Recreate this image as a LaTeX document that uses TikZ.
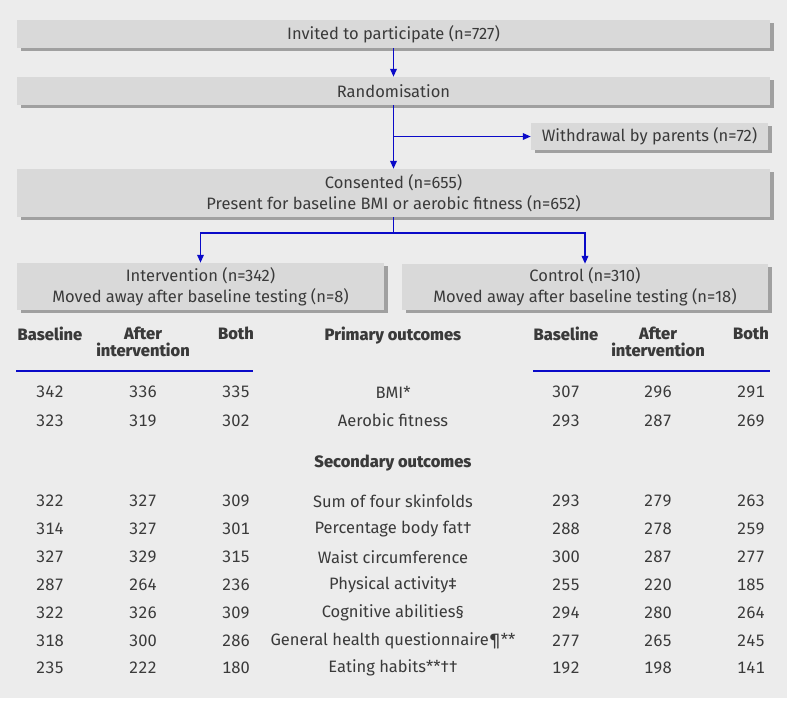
\documentclass[tikz,border=0pt]{standalone}
\usepackage{fontspec}
\setmainfont{Fira Sans}
\newfontfamily\headfont{Fira Sans ExtraBold}
\newfontfamily\numfont{Fira Sans}[Numbers=Monospaced]
\usetikzlibrary{arrows.meta,shadows}
\definecolor{bggray}{RGB}{236,236,236}
\definecolor{boxgray}{RGB}{217,217,217}
\definecolor{shadowgray}{RGB}{160,160,160}
\definecolor{txtgray}{RGB}{58,58,58}
\definecolor{linkblue}{RGB}{10,10,200}
\begin{document}
\begin{tikzpicture}[x=1pt,y=-1pt,
  every node/.style={text=txtgray, font=\fontsize{16.5}{21}\selectfont, inner sep=0pt},
  flowbox/.style={fill=boxgray, align=center,
    general shadow={fill=shadowgray, shadow xshift=4pt, shadow yshift=-3pt}},
  conn/.style={draw=linkblue, line width=1.8pt, -{Triangle[length=8pt,width=6.5pt]}},
  rule/.style={draw=linkblue, line width=1.8pt},
  headcell/.style={font=\headfont\fontsize{16.5}{17}\selectfont, align=center, anchor=north},
  cell/.style={anchor=center, font=\numfont\fontsize{16.5}{21}\selectfont}
]
\useasboundingbox (0,0) rectangle (787,705);
\fill[white] (0,0) rectangle (787,705);
\fill[bggray] (0,0) rectangle (787,698);

% flow boxes
\node[flowbox, minimum width=753pt, minimum height=28pt] (inv) at (393.5,34) {Invited to participate (n=727)};
\node[flowbox, minimum width=753pt, minimum height=28pt] (rand) at (393.5,91) {Randomisation};
\node[flowbox, minimum width=237pt, minimum height=27pt] (wd) at (649.5,136.5) {Withdrawal by parents (n=72)};
\node[flowbox, minimum width=753pt, minimum height=48pt] (cons) at (393.5,193) {Consented (n=655)\\Present for baseline BMI or aerobic fitness (n=652)};
\node[flowbox, minimum width=367pt, minimum height=47pt] (int) at (200.5,286.5) {Intervention (n=342)\\Moved away after baseline testing (n=8)};
\node[flowbox, minimum width=366pt, minimum height=46pt] (ctl) at (585,287) {Control (n=310)\\Moved away after baseline testing (n=18)};

% connectors
\draw[conn] (inv.south) -- (rand.north);
\draw[conn] (rand.south) -- (cons.north);
\draw[conn] (rand.south |- wd.west) -- (wd.west);
\draw[conn] (cons.south) -- ++(0,16) -| (int.north);
\draw[conn] (cons.south) -- ++(0,16) -| (ctl.north);

% table headers
\node[headcell] (hlb) at (50,327) {Baseline};
\node[headcell] (hla) at (143,327) {After\\intervention};
\node[headcell] (hlc) at (236,327) {Both};
\node[headcell] (hpo) at (393,327) {Primary outcomes};
\node[headcell] (hrb) at (566,327) {Baseline};
\node[headcell] (hra) at (658,327) {After\\intervention};
\node[headcell] (hrc) at (751,327) {Both};
\coordinate (rl1) at (16,371);
\coordinate (rl2) at (253,371);
\coordinate (rr1) at (533,371);
\coordinate (rr2) at (770,371);
\draw[rule] (rl1) -- (rl2);
\draw[rule] (rr1) -- (rr2);

\node[font=\headfont\fontsize{16.5}{17}\selectfont] (hso) at (393,463) {Secondary outcomes};

% table rows
\foreach \yy/\a/\b/\c/\t/\d/\e/\f [count=\i] in {
  392/342/336/335/BMI*/307/296/291,
  420.5/323/319/302/Aerobic fitness/293/287/269,
  501/322/327/309/Sum of four skinfolds/293/279/263,
  529/314/327/301/Percentage body fat†/288/278/259,
  557/327/329/315/Waist circumference/300/287/277,
  585/287/264/236/Physical activity‡/255/220/185,
  612.5/322/326/309/Cognitive abilities§/294/280/264,
  640.5/318/300/286/General health questionnaire¶**/277/265/245,
  668/235/222/180/Eating habits**††/192/198/141}{
  \node[cell] (a\i) at (50,\yy) {\a};
  \node[cell] (b\i) at (143,\yy) {\b};
  \node[cell] (c\i) at (236,\yy) {\c};
  \node (t\i) at (393,\yy) {\t};
  \node[cell] (d\i) at (566,\yy) {\d};
  \node[cell] (e\i) at (658,\yy) {\e};
  \node[cell] (f\i) at (751,\yy) {\f};
}
\end{tikzpicture}
\end{document}
